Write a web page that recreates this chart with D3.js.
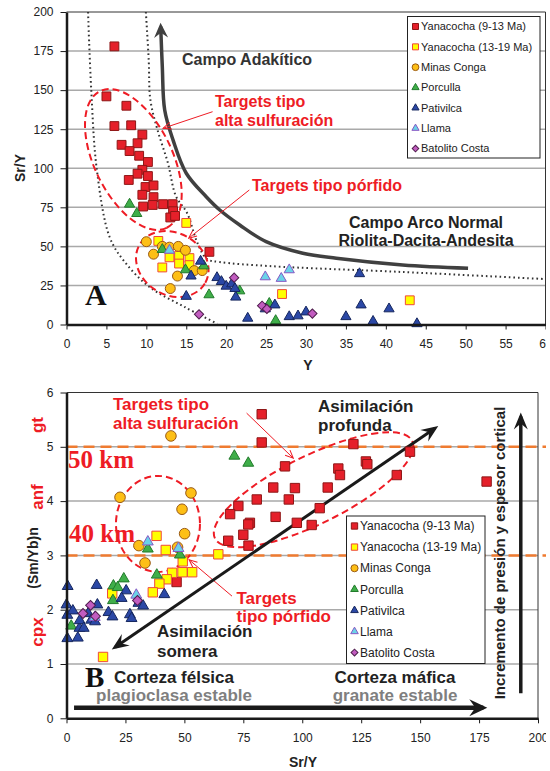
<!DOCTYPE html>
<html>
<head>
<meta charset="utf-8">
<script src="https://cdn.jsdelivr.net/npm/d3@7/dist/d3.min.js"></script>
<style>
  body { margin: 0; background: #fff; }
  svg text { font-family: "Liberation Sans", Arial, sans-serif; }
</style>
</head>
<body>
<svg id="chart" width="550" height="771"></svg>
<script>
// ---- legend / series order
var seriesNames = ["Yanacocha (9-13 Ma)", "Yanacocha (13-19 Ma)", "Minas Conga",
                   "Porculla", "Pativilca", "Llama", "Batolito Costa"];

// ---- Panel A : Y vs Sr/Y
var aYana913 = [[6,178],[5,146],[7.5,140],[6,127],[8.1,127.5],[9.5,121.5],[6.9,115],[8.9,116],
                [7.9,111],[9.1,108],[10.2,104],[9.5,99],[8.9,96.5],[10.2,95],[7.8,92.5],[9.9,88],
                [10.9,89],[9.5,83],[10.9,81.5],[9.6,75.5],[10.8,76.5],[12.1,77],[13.3,77],
                [13.35,72.5],[13.0,68.5],[13.6,69.5],[17.9,46.5]];
var aYana1319 = [[15,65],[11.5,53.5],[12.9,43],[12,36.5],[14.1,44],[14.1,39],[15.4,42.5],
                 [15.4,38],[27,19.5],[43,15.5]];
var aConga = [[10,53],[10.9,45],[12,50],[12.9,49.5],[14,50],[14.9,47.5],[13.9,31],[13,23],
              [16,34.5],[17,34.5]];
var aPorculla = [[7.9,77],[8.8,71],[12,48],[14.9,35],[17.2,37.5],[17.85,19],[21.7,21.5],
                 [25.4,13.5],[26.2,2.5]];
var aPativilca = [[16.8,40.5],[15.6,31],[15,18],[18.85,30],[19.4,27.5],[20,24.5],[20.7,26],
                  [21.1,23],[21.2,17.5],[22.7,4],[24.9,10],[26.1,12.5],[27.9,5],[29,5.5],[30,8],
                  [35,5],[36.7,32.5],[36.9,12.5],[38.4,2],[40.4,10],[43.9,0.5]];
var aLlama = [[12.9,47.5],[24.9,30.5],[26.9,29.5],[27.9,35]];
var aBatolito = [[21,30],[16.6,6.5],[24.5,12],[25.1,10],[30.8,7]];

var aTicksX = [0,5,10,15,20,25,30,35,40,45,50,55,60];
var aTicksY = [0,25,50,75,100,125,150,175,200];

// field boundaries of panel A (Y, Sr/Y)
var aAdakiticCurve = [[50.3,36],[42.1,38.1],[33.8,42.4],[29.6,45.6],[25,53],[21.7,63.7],[19.2,73.3],
                      [17.5,81.8],[15,96.8],[13.35,118],[12.3,137.3],[12,165],[11.8,190.6]];
var aOuterDotted = [[2.7,200],[3.1,150],[3.8,99],[5.4,56],[7.3,40],[10.4,24],[14.8,11.2],[18.9,0.5]];
var aInnerDotted = [[9.94,200],[10.3,169],[10.5,144],[11.4,124.5],[12.7,103.4],[13.7,82.2],
                    [15.1,71.4],[16.4,52.2],[17.6,41.9],[19.2,40],[25.4,37.4],[42.1,33.6],[59.9,29.1]];

// ---- Panel B : Sr/Y vs (Sm/Yb)n
var bYana913 = [[82.8,5.6],[82.8,5.08],[92.7,4.64],[87.7,4.25],[96.9,4.24],[110.8,4.25],[80.7,4.03],
                [94.3,4.03],[72.9,3.91],[69.4,3.76],[88.7,3.71],[77.8,3.6],[77.1,3.57],[97.7,3.6],
                [104,3.56],[75,3.38],[107.4,3.87],[68.6,3.27],[77.2,3.18],[121.7,5.05],[127,4.73],
                [127.6,4.68],[115.3,4.6],[116,4.48],[140.1,4.48],[145.7,4.91],[178.2,4.36],[46.7,2.51]];
var bYana1319 = [[38.2,3.36],[42.1,3.1],[64.4,3.02],[49.3,2.89],[44.8,2.68],[49.2,2.69],[53.3,2.69],
                 [42.5,2.56],[39.4,2.48],[36.6,2.32],[19.4,2.3],[15.5,1.13]];
var bConga = [[44.3,5.2],[22.7,4.07],[52.8,4.15],[49,3.85],[50.1,3.4],[30.7,3.18],[47.1,3.15],[33.3,2.86]];
var bPorculla = [[71.2,4.83],[77.1,4.7],[34.5,3.12],[48.1,3.01],[38.3,2.64],[24.3,2.57],[19.9,2.44],
                 [21.7,2.41],[19.7,2.17],[2,1.7]];
var bPativilca = [[0.5,2.43],[0,2.09],[0.35,1.9],[2.7,1.98],[0.35,1.47],[4.8,1.48],[5.5,1.66],[5.6,1.8],
                  [7.3,1.66],[12.8,2.45],[13.1,2.09],[9.2,1.93],[10.5,1.81],[12.1,1.78],[17.8,1.95],
                  [19.5,1.87],[25.3,2.35],[23.4,2.21],[26.9,1.91],[27.6,1.84],[30.5,2.12],[32.5,2.07],
                  [41.5,2.28]];
var bLlama = [[34.5,3.25],[47.5,3.13],[29.6,2.27],[12,1.86]];
var bBatolito = [[7,1.93],[10.2,2.08],[12.3,1.88],[30.1,2.17]];

var bTicksX = [0,25,50,75,100,125,150,175,200];
var bTicksY = [0,1,2,3,4,5,6];
var bDepthLines = [3,5];   // 40 km, 50 km

// arrows of panel B (Sr/Y, (Sm/Yb)n)
var bAssimArrow = [[20.6,1.31],[156.3,5.34]];
var bCrustArrow = [[3.2,0.195],[176.8,0.195]];
var bPressureArrow = [[192.7,0.46],[192.7,5.56]];

// ---- styles
var styles = [
    {shape: "square",   fill: "#e5202a", stroke: "#8e1616"},
    {shape: "square",   fill: "#ffff00", stroke: "#f0483c"},
    {shape: "circle",   fill: "#fdbf16", stroke: "#9a5a14"},
    {shape: "triangle", fill: "#3fae49", stroke: "#217a2b"},
    {shape: "triangle", fill: "#2b48a6", stroke: "#16275e"},
    {shape: "triangle", fill: "#6ad3e8", stroke: "#8758c4"},
    {shape: "diamond",  fill: "#c25cc0", stroke: "#4e1d4c"}
];
var red = "#ee1c25";

var svg = d3.select("#chart");
var defs = svg.append("defs");
defs.append("clipPath").attr("id", "clipAll")
    .append("rect").attr("width", 546).attr("height", 771);

// notched arrow head, tip "ahead" px past the line end
function arrowHead(id, color, len, half, notch, ahead) {
    defs.append("marker")
        .attr("id", id)
        .attr("markerUnits", "userSpaceOnUse")
        .attr("viewBox", [ahead - len - 2, -half - 2, len + 4, 2 * half + 4].join(" "))
        .attr("markerWidth", len + 4)
        .attr("markerHeight", 2 * half + 4)
        .attr("refX", 0).attr("refY", 0)
        .attr("orient", "auto-start-reverse")
      .append("path")
        .attr("d", "M" + ahead + ",0L" + (ahead - len) + "," + (-half) + "L" + (ahead - len + notch) +
                   ",0L" + (ahead - len) + "," + half + "Z")
        .attr("fill", color);
}
arrowHead("headGray", "#404040", 15, 7, 5, 4);
arrowHead("headBlack", "#1a1a1a", 17, 7, 6, 4);
arrowHead("headBlackBig", "#1a1a1a", 18, 8.5, 6, 4);

defs.append("marker")
    .attr("id", "headRed")
    .attr("markerUnits", "userSpaceOnUse")
    .attr("viewBox", "-9 -5 10 10")
    .attr("markerWidth", 10).attr("markerHeight", 10)
    .attr("refX", 0).attr("refY", 0)
    .attr("orient", "auto")
  .append("path")
    .attr("d", "M-8,-3.5L0,0L-8,3.5")
    .attr("fill", "none").attr("stroke", red).attr("stroke-width", 1);

var root = svg.append("g").attr("clip-path", "url(#clipAll)");

function symbolPath(shape, size) {
    var type = shape === "circle" ? d3.symbolCircle :
               shape === "triangle" ? d3.symbolTriangle : d3.symbolSquare;
    return d3.symbol().type(type).size(size)();
}

function drawPoints(g, x, y, data, st, size) {
    var sz = st.shape === "triangle" ? size * 0.58 : st.shape === "diamond" ? size * 0.55 : size;
    g.append("g").selectAll("path")
        .data(data)
        .enter()
        .append("path")
        .attr("d", symbolPath(st.shape, sz))
        .attr("transform", function(d) {
            return "translate(" + x(d[0]) + "," + y(d[1]) + ")" + (st.shape === "diamond" ? " rotate(45)" : "");
        })
        .style("fill", st.fill)
        .style("stroke", st.stroke)
        .style("stroke-width", 1);
}

function drawFrame(g, x, y, ticksX, ticksY) {
    var x0 = x.range()[0], x1 = x.range()[1], y0 = y.range()[0], y1 = y.range()[1];
    // grid
    g.append("g").selectAll("line")
        .data(ticksY.slice(1, -1))
        .enter().append("line")
        .attr("x1", x0).attr("x2", x1)
        .attr("y1", function(d) { return y(d); })
        .attr("y2", function(d) { return y(d); })
        .style("stroke", "#a9a9a9").style("stroke-width", 1.5);
    // thin box on top / right
    g.append("path")
        .attr("d", "M" + x0 + "," + y1 + "H" + x1 + "V" + y0)
        .style("fill", "none").style("stroke", "#333").style("stroke-width", 1);
}

function drawAxes(g, x, y, ticksX, ticksY) {
    var y0 = y.range()[0], x0 = x.range()[0];
    var ax = g.append("g").attr("transform", "translate(0," + y0 + ")")
        .call(d3.axisBottom(x).tickValues(ticksX).tickFormat(d3.format("d"))
            .tickSize(5).tickPadding(10).tickSizeOuter(0));
    var ay = g.append("g").attr("transform", "translate(" + x0 + ",0)")
        .call(d3.axisLeft(y).tickValues(ticksY).tickFormat(d3.format("d"))
            .tickSize(6).tickPadding(7).tickSizeOuter(0));
    [ax, ay].forEach(function(a) {
        a.select(".domain").style("stroke", "#1a1a1a").style("stroke-width", 2.5);
        a.selectAll(".tick line").style("stroke", "#1a1a1a").style("stroke-width", 1);
        a.selectAll(".tick text").style("font-size", "12px").style("fill", "#222")
            .style("font-family", "'Liberation Sans', Arial, sans-serif");
    });
}

function drawLegend(g, left, top, w, h, step, fontSize, markSize) {
    g.append("rect").attr("x", left).attr("y", top).attr("width", w).attr("height", h)
        .style("fill", "#fff").style("stroke", "#222").style("stroke-width", 1);
    seriesNames.forEach(function(name, i) {
        var cy = top + 10 + i * step;
        var st = styles[i];
        var sz = st.shape === "triangle" ? markSize * 0.62 : st.shape === "diamond" ? markSize * 0.6 : markSize;
        g.append("path")
            .attr("d", symbolPath(st.shape, sz))
            .attr("transform", "translate(" + (left + 8) + "," + cy + ")" + (st.shape === "diamond" ? " rotate(45)" : ""))
            .style("fill", st.fill).style("stroke", st.stroke).style("stroke-width", 1);
        g.append("text")
            .attr("x", left + 13.5).attr("y", cy)
            .attr("dy", "0.35em")
            .style("font-size", fontSize + "px").style("fill", "#222")
            .text(name);
    });
}

function addText(g, x, y, str, size, color, anchor, family) {
    return g.append("text")
        .attr("x", x).attr("y", y)
        .attr("text-anchor", anchor || "start")
        .style("font-size", size + "px")
        .style("font-weight", "bold")
        .style("fill", color)
        .style("font-family", family || "'Liberation Sans', Arial, sans-serif")
        .text(str);
}

function redArrow(g, line, pts) {
    g.append("path").attr("d", line(pts))
        .style("fill", "none").style("stroke", red).style("stroke-width", 1)
        .attr("marker-end", "url(#headRed)");
}

function ellipse(g, cx, cy, rx, ry, angle) {
    g.append("ellipse")
        .attr("cx", cx).attr("cy", cy).attr("rx", rx).attr("ry", ry)
        .attr("transform", "rotate(" + angle + "," + cx + "," + cy + ")")
        .style("fill", "none").style("stroke", red)
        .style("stroke-width", 2).style("stroke-dasharray", "7,4");
}

// ================= Panel A =================
var xA = d3.scaleLinear().domain([0, 60]).range([66.5, 545.5]);
var yA = d3.scaleLinear().domain([0, 200]).range([324.5, 12]);
var gA = root.append("g");
var lineA = d3.line().x(function(d) { return xA(d[0]); }).y(function(d) { return yA(d[1]); });
var curveA = d3.line().x(function(d) { return xA(d[0]); }).y(function(d) { return yA(d[1]); })
    .curve(d3.curveCatmullRom);

drawFrame(gA, xA, yA, aTicksX, aTicksY);

[aOuterDotted, aInnerDotted].forEach(function(c) {
    gA.append("path").attr("d", curveA(c))
        .style("fill", "none").style("stroke", "#333")
        .style("stroke-width", 2).style("stroke-dasharray", "1.6,3");
});
gA.append("path").attr("d", curveA(aAdakiticCurve))
    .style("fill", "none").style("stroke", "#404040").style("stroke-width", 3.5)
    .attr("marker-end", "url(#headGray)");

ellipse(gA, xA(8.375), yA(105.6), 76, 39, 64);
ellipse(gA, xA(13.25), yA(38.7), 38, 31, 31);

redArrow(gA, lineA, [[18.3, 136.2], [12.1, 125.6]]);
redArrow(gA, lineA, [[22.9, 86.1], [15.3, 55.2]]);

var aSeries = [aYana913, aYana1319, aConga, aPorculla, aPativilca, aLlama, aBatolito];
aSeries.forEach(function(s, i) { drawPoints(gA, xA, yA, s, styles[i], 78); });

drawAxes(gA, xA, yA, aTicksX, aTicksY);

addText(gA, 182, 65, "Campo Adakítico", 16, "#333");
addText(gA, 426, 228, "Campo Arco Normal", 16, "#222", "middle");
addText(gA, 426, 246, "Riolita-Dacita-Andesita", 16, "#222", "middle");
addText(gA, 215, 107, "Targets tipo", 16, red);
addText(gA, 215, 126, "alta sulfuración", 16, red);
addText(gA, 327, 191, "Targets tipo pórfido", 16, red, "middle");
addText(gA, 85, 305, "A", 30, "#111", "start", "'Liberation Serif', 'Times New Roman', serif");
addText(gA, 308, 370, "Y", 14, "#222", "middle");
addText(gA, 0, 0, "Sr/Y", 14, "#222", "middle")
    .attr("transform", "translate(25,168) rotate(-90)");

drawLegend(gA, 407.5, 16.5, 132.5, 141.5, 20.35, 11, 36);

// ================= Panel B =================
var xB = d3.scaleLinear().domain([0, 200]).range([66.5, 538]);
var yB = d3.scaleLinear().domain([0, 6]).range([718.3, 392.5]);
var gB = root.append("g");
var lineB = d3.line().x(function(d) { return xB(d[0]); }).y(function(d) { return yB(d[1]); });

drawFrame(gB, xB, yB, bTicksX, bTicksY);

gB.append("g").selectAll("line")
    .data(bDepthLines)
    .enter().append("line")
    .attr("x1", xB.range()[0]).attr("x2", 546)
    .attr("y1", function(d) { return yB(d); })
    .attr("y2", function(d) { return yB(d); })
    .style("stroke", "#ef7b30").style("stroke-width", 2.5).style("stroke-dasharray", "11,6");

ellipse(gB, xB(38.8), yB(3.58), 42, 48, 0);
ellipse(gB, xB(104.8), yB(4.21), 110, 34, -26.3);

redArrow(gB, lineB, [[76.4, 5.62], [96.2, 4.79]]);
redArrow(gB, lineB, [[70.2, 2.25], [52.0, 2.92]]);

gB.append("path").attr("d", lineB(bAssimArrow))
    .style("fill", "none").style("stroke", "#1a1a1a").style("stroke-width", 3)
    .attr("marker-start", "url(#headBlack)").attr("marker-end", "url(#headBlack)");
gB.append("path").attr("d", lineB(bCrustArrow))
    .style("fill", "none").style("stroke", "#1a1a1a").style("stroke-width", 4.5)
    .attr("marker-end", "url(#headBlackBig)");
gB.append("path").attr("d", lineB(bPressureArrow))
    .style("fill", "none").style("stroke", "#1a1a1a").style("stroke-width", 3.5)
    .attr("marker-end", "url(#headBlack)");

var bSeries = [bYana913, bYana1319, bConga, bPorculla, bPativilca, bLlama, bBatolito];
bSeries.forEach(function(s, i) { drawPoints(gB, xB, yB, s, styles[i], 88); });

drawAxes(gB, xB, yB, bTicksX, bTicksY);

addText(gB, 113, 410, "Targets tipo", 17, red);
addText(gB, 113, 429, "alta sulfuración", 17, red);
addText(gB, 318, 412, "Asimilación", 17, "#222");
addText(gB, 318, 431, "profunda", 17, "#222");
addText(gB, 157, 637, "Asimilación", 17, "#222");
addText(gB, 157, 657, "somera", 17, "#222");
addText(gB, 236.5, 604, "Targets", 17, red);
addText(gB, 236.5, 622, "tipo pórfido", 17, red);
addText(gB, 174, 683, "Corteza félsica", 17, "#222", "middle");
addText(gB, 174, 701, "plagioclasa estable", 17, "#7f7f7f", "middle");
addText(gB, 395, 683, "Corteza máfica", 17, "#222", "middle");
addText(gB, 395, 701, "granate estable", 17, "#7f7f7f", "middle");
addText(gB, 85, 687, "B", 29, "#111", "start", "'Liberation Serif', 'Times New Roman', serif");
addText(gB, 68, 468, "50 km", 25, red, "start", "'Liberation Serif', 'Times New Roman', serif");
addText(gB, 69, 542, "40 km", 25, red, "start", "'Liberation Serif', 'Times New Roman', serif");

[["gt", 425], ["anf", 497], ["cpx", 632]].forEach(function(t) {
    addText(gB, 0, 0, t[0], 17, red, "middle")
        .attr("dy", "0.35em")
        .attr("transform", "translate(37," + t[1] + ") rotate(-90)");
});
addText(gB, 0, 0, "(Sm/Yb)n", 14, "#222", "middle")
    .attr("dy", "0.35em")
    .attr("transform", "translate(33,558) rotate(-90)");
addText(gB, 0, 0, "Incremento de presión y espesor cortical", 15, "#222", "middle")
    .attr("dy", "0.35em")
    .attr("transform", "translate(500,553) rotate(-90)");
addText(gB, 303, 767, "Sr/Y", 14, "#222", "middle");

drawLegend(gB, 346.5, 516, 138.5, 147.5, 21.1, 12, 40);
</script>
</body>
</html>
